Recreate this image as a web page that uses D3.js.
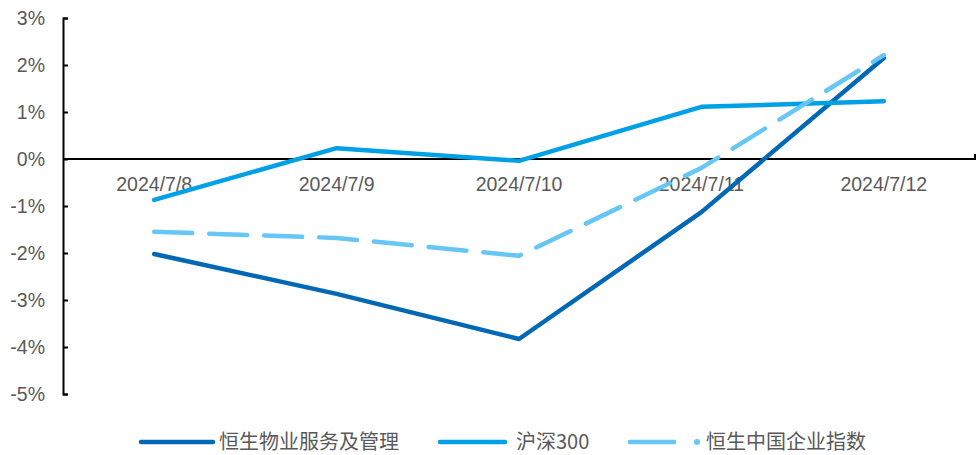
<!DOCTYPE html>
<html><head><meta charset="utf-8">
<script src="https://cdn.jsdelivr.net/npm/d3@7"></script>
<style>body{margin:0;background:#fff}svg{display:block}</style>
</head><body><svg id="c" width="979" height="455"></svg>
<script>
const categories = ["2024/7/8","2024/7/9","2024/7/10","2024/7/11","2024/7/12"];
const seriesNames = ["恒生物业服务及管理","沪深300","恒生中国企业指数"];
const hsProperty = [-2.02,-2.87,-3.83,-1.13,2.15];
const csi300 = [-0.87,0.23,-0.04,1.11,1.23];
const hscei = [-1.55,-1.68,-2.06,-0.19,2.21];
const yTicks = [3,2,1,0,-1,-2,-3,-4,-5];
const colors = ["#0068B4","#00A0E6","#66C6F6"];

const svg = d3.select("#c");
const x = d3.scaleBand().domain(categories).range([63,975]);
const y = d3.scaleLinear().domain([-5,3]).range([394,18]);
const font = "'Liberation Sans', Arial, sans-serif";

// y axis
const ya = svg.append("g").attr("transform","translate(63,0)")
  .call(d3.axisRight(y).tickValues(yTicks).tickSize(5).tickFormat(d=>d+"%"));
ya.select(".domain").attr("stroke","#000").attr("stroke-width",2);
ya.selectAll(".tick line").attr("stroke","#000").attr("stroke-width",2);
ya.selectAll(".tick text").attr("x",-18).attr("text-anchor","end")
  .attr("fill","#595959").attr("font-size",19.5).attr("font-family",font);

// x axis at 0
const xa = svg.append("g").attr("transform",`translate(0,${y(0)})`)
  .call(d3.axisBottom(x).tickSize(0).tickPadding(18));
xa.select(".domain").attr("stroke","#000").attr("stroke-width",2)
  .attr("d",`M63,0H975V-5`);
xa.selectAll(".tick text").attr("fill","#595959").attr("font-size",19.5).attr("font-family",font);

const line = d3.line().x((d,i)=>x(categories[i])+x.bandwidth()/2).y(d=>y(d));
const data = [hsProperty,csi300,hscei];
data.forEach((s,k)=>{
  svg.append("path").datum(s).attr("d",line).attr("fill","none")
    .attr("stroke",colors[k]).attr("stroke-width",4.5)
    .attr("stroke-linecap","round").attr("stroke-linejoin","round")
    .attr("stroke-dasharray",k===2?"38,17":null);
});

// legend
const leg = [{x1:141,x2:213,tx:219},{x1:440,x2:505,tx:516},{x1:630,x2:674,tx:706}];
leg.forEach((l,k)=>{
  const g = svg.append("g");
  g.append("line").attr("x1",l.x1).attr("x2",l.x2).attr("y1",442).attr("y2",442)
    .attr("stroke",colors[k]).attr("stroke-width",4.5).attr("stroke-linecap","round");
  if(k===2) g.append("circle").attr("cx",697).attr("cy",442).attr("r",3).attr("fill",colors[k]);
  g.append("text").attr("x",l.tx).attr("y",449).text(seriesNames[k])
    .attr("fill","#595959").attr("font-size",20).attr("font-family","'Noto Sans CJK SC', sans-serif");
});
</script></body></html>
